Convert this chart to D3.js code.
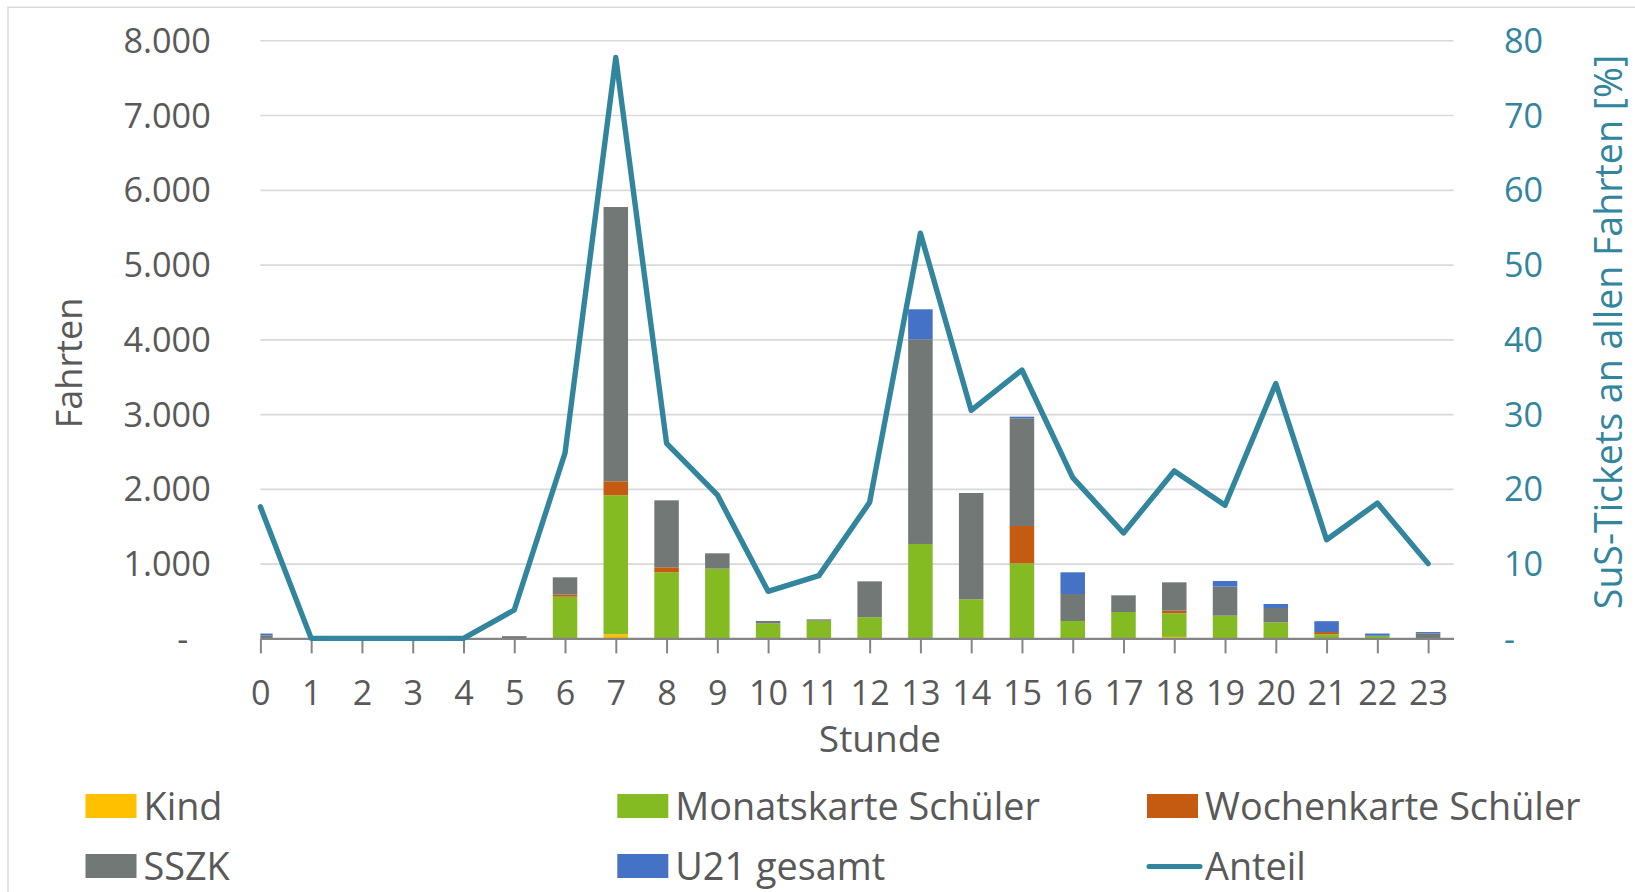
<!DOCTYPE html>
<html>
<head>
<meta charset="utf-8">
<script src="https://cdn.jsdelivr.net/npm/d3@7"></script>
<style>
  body { margin: 0; background: #fff; }
  svg { display: block; }
  text { font-family: "Open Sans", "Noto Sans", "DejaVu Sans", sans-serif; }
</style>
</head>
<body>
<svg id="chart" width="1635" height="892"></svg>
<script>
// ---------- data ----------
const hours = [0,1,2,3,4,5,6,7,8,9,10,11,12,13,14,15,16,17,18,19,20,21,22,23];
const kind   = [0,0,0,0,0,0,0,55,0,0,0,0,0,0,0,0,0,0,20,0,0,0,0,0];
const monat  = [0,0,0,0,0,0,558,1860,884,933,200,237,282,1263,523,1004,233,353,316,304,215,55,35,0];
const woche  = [0,0,0,0,0,0,27,186,67,0,0,0,0,0,0,499,0,0,35,0,0,30,0,0];
const sszk   = [40,0,0,0,0,30,232,3669,896,205,33,18,481,2738,1422,1441,361,223,379,388,192,0,0,68];
const u21    = [25,0,0,0,0,0,0,0,0,0,0,0,0,401,0,22,290,0,0,76,53,145,30,17];
const anteil = [17.6,0,0,0,0,3.8,24.8,77.7,26.1,19.2,6.3,8.4,18.2,54.2,30.5,35.9,21.5,14.1,22.4,17.8,34.1,13.2,18.1,10.0];

const leftTicks  = [0,1000,2000,3000,4000,5000,6000,7000,8000];
const rightTicks = [0,10,20,30,40,50,60,70,80];

const seriesKeys   = ["kind","monat","woche","sszk","u21"];
const seriesNames  = ["Kind","Monatskarte Schüler","Wochenkarte Schüler","SSZK","U21 gesamt"];
const seriesColors = ["#FFC000","#84BB23","#C55A11","#727876","#4472C4"];
const lineName  = "Anteil";
const lineColor = "#31859C";

const xTitle = "Stunde";
const yTitle = "Fahrten";
const y2Title = "SuS-Tickets an allen Fahrten [%]";

// ---------- layout ----------
const plotL = 260.4, plotR = 1453.5, plotT = 40.3, plotB = 638.4;
const barW = 24.5;
const textGray = "#595959";

const svg = d3.select("#chart");

// outer border
svg.append("rect")
  .attr("x", 8).attr("y", 7.3).attr("width", 1700).attr("height", 1000)
  .attr("fill", "none").attr("stroke", "#D9D9D9").attr("stroke-width", 1.5);

const x = d3.scaleLinear().domain([0, 23.5]).range([plotL, plotR]);
const y = d3.scaleLinear().domain([0, 8000]).range([plotB, plotT]);
const y2 = d3.scaleLinear().domain([0, 80]).range([plotB, plotT]);

// gridlines
const grid = svg.append("g").attr("transform", `translate(${plotL},0)`)
  .call(d3.axisLeft(y).tickValues(leftTicks.slice(1)).tickSize(-(plotR - plotL)).tickFormat(""));
grid.select(".domain").remove();
grid.selectAll(".tick line").attr("stroke", "#D9D9D9").attr("stroke-width", 1.6);

// left axis labels
const locale = d3.formatLocale({decimal: ",", thousands: ".", grouping: [3], currency: ["", "€"]});
const fmt = locale.format(",");
const yAx = svg.append("g").attr("transform", `translate(${plotL},0)`)
  .call(d3.axisLeft(y).tickValues(leftTicks).tickSize(0).tickPadding(49.7)
    .tickFormat(d => d === 0 ? "-" : fmt(d)));
yAx.select(".domain").remove();
yAx.selectAll("text")
  .attr("font-size", 34.2).attr("fill", textGray).attr("dy", "0.35em")
  .attr("font-family", null)
  .filter(d => d === 0).attr("dx", -22.5);

// right axis labels
const y2Ax = svg.append("g").attr("transform", `translate(${plotR},0)`)
  .call(d3.axisRight(y2).tickValues(rightTicks).tickSize(0).tickPadding(50.5)
    .tickFormat(d => d === 0 ? "-" : d));
y2Ax.select(".domain").remove();
y2Ax.selectAll("text")
  .attr("font-size", 34.2).attr("fill", lineColor).attr("dy", "0.35em")
  .attr("font-family", null);

// stacked bars
const table = hours.map((h, i) => ({
  hour: h, kind: kind[i], monat: monat[i], woche: woche[i], sszk: sszk[i], u21: u21[i]
}));
const stacked = d3.stack().keys(seriesKeys)(table);

svg.append("defs").append("clipPath").attr("id", "plotclip")
  .append("rect").attr("x", plotL).attr("y", 0).attr("width", plotR - plotL).attr("height", plotB + 2);

const barsG = svg.append("g").attr("clip-path", "url(#plotclip)");
stacked.forEach((layer, k) => {
  barsG.append("g").attr("fill", seriesColors[k])
    .selectAll("rect").data(layer).join("rect")
    .attr("x", d => x(d.data.hour) - barW / 2)
    .attr("width", barW)
    .attr("y", d => y(d[1]))
    .attr("height", d => Math.max(0, y(d[0]) - y(d[1])));
});

// bottom axis
const xAx = svg.append("g").attr("transform", `translate(0,${plotB})`)
  .call(d3.axisBottom(x).tickValues(hours).tickSize(15).tickSizeOuter(0).tickFormat(d => d));
xAx.select(".domain").attr("stroke", "#858585").attr("stroke-width", 2.2);
xAx.selectAll(".tick line").attr("stroke", "#858585").attr("stroke-width", 2);
xAx.selectAll("text")
  .attr("font-size", 34.2).attr("fill", textGray)
  .attr("y", 66.6).attr("dy", 0).attr("font-family", null);

// line
const line = d3.line().x((d, i) => x(hours[i])).y(d => y2(d));
svg.append("path").datum(anteil)
  .attr("d", line).attr("fill", "none")
  .attr("stroke", lineColor).attr("stroke-width", 5.4)
  .attr("stroke-linejoin", "round").attr("stroke-linecap", "round");

// titles
svg.append("text").text(yTitle)
  .attr("transform", "translate(82,363) rotate(-90)")
  .attr("text-anchor", "middle").attr("font-size", 36).attr("fill", textGray);

svg.append("text").text(y2Title)
  .attr("transform", "translate(1622,332) rotate(-90)")
  .attr("text-anchor", "middle").attr("font-size", 37.5).attr("fill", lineColor);

svg.append("text").text(xTitle)
  .attr("x", 880).attr("y", 752)
  .attr("text-anchor", "middle").attr("font-size", 37).attr("fill", textGray);

// legend
const legendItems = [
  {name: seriesNames[0], color: seriesColors[0], type: "rect", col: 0, row: 0},
  {name: seriesNames[1], color: seriesColors[1], type: "rect", col: 1, row: 0},
  {name: seriesNames[2], color: seriesColors[2], type: "rect", col: 2, row: 0},
  {name: seriesNames[3], color: seriesColors[3], type: "rect", col: 0, row: 1},
  {name: seriesNames[4], color: seriesColors[4], type: "rect", col: 1, row: 1},
  {name: lineName, color: lineColor, type: "line", col: 2, row: 1}
];
const colX = [85.5, 617.3, 1147];
const rowY = [794, 854];
const leg = svg.append("g");
legendItems.forEach(it => {
  const gx = colX[it.col], gy = rowY[it.row];
  if (it.type === "rect") {
    leg.append("rect").attr("x", gx).attr("y", gy).attr("width", 51).attr("height", 24)
      .attr("fill", it.color);
  } else {
    leg.append("line").attr("x1", gx + 2).attr("x2", gx + 53).attr("y1", gy + 12.5).attr("y2", gy + 12.5)
      .attr("stroke", it.color).attr("stroke-width", 5).attr("stroke-linecap", "round");
  }
  leg.append("text").text(it.name)
    .attr("x", gx + 58).attr("y", gy + 26)
    .attr("font-size", 37.8).attr("fill", textGray);
});
</script>
</body>
</html>
